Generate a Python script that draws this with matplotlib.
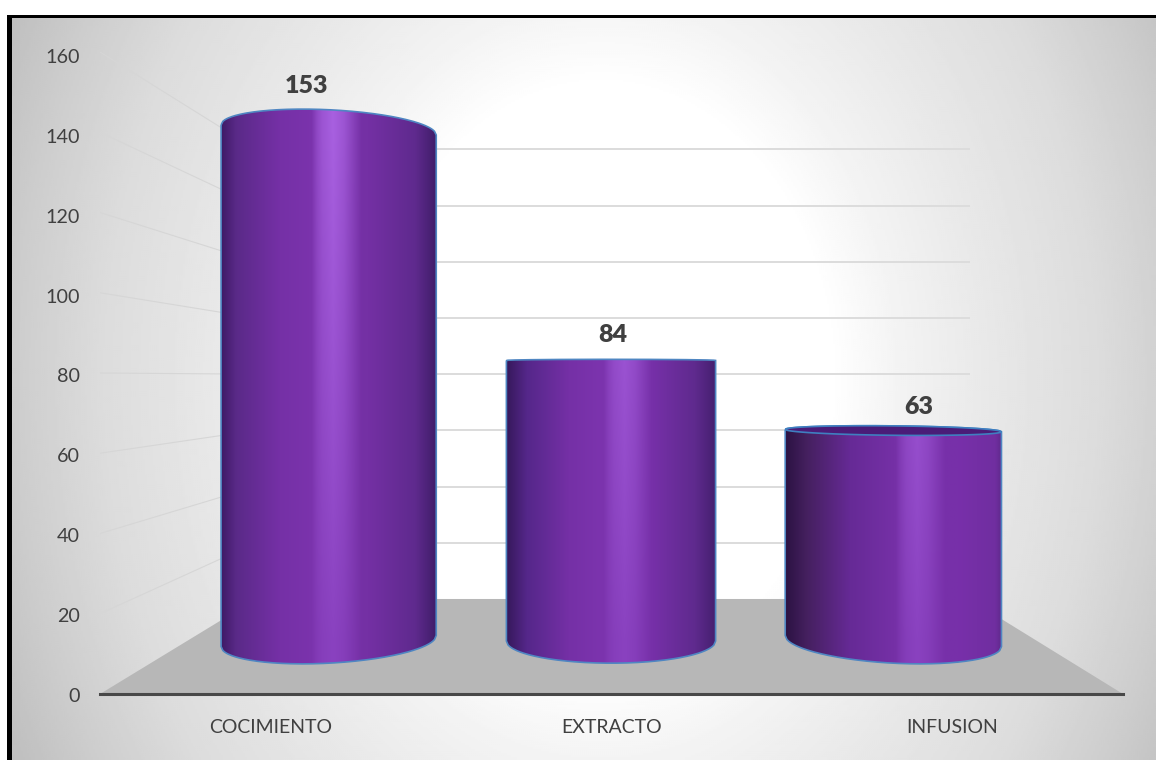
import numpy as np
import matplotlib
matplotlib.use("Agg")
import matplotlib.pyplot as plt
from matplotlib.patches import PathPatch, Polygon, Rectangle
from matplotlib.path import Path

categories = ["COCIMIENTO", "EXTRACTO", "INFUSION"]
values = [153, 84, 63]
y_ticks = [0, 20, 40, 60, 80, 100, 120, 140, 160]

plt.rcParams["font.family"] = ["Lato", "DejaVu Sans"]
W, H = 1156, 760
fig = plt.figure(figsize=(W / 100, H / 100), dpi=100, facecolor="white")


def axes_px(x0, x1, ytop, ybot, **kw):
    return fig.add_axes([x0 / W, 1 - ybot / H, (x1 - x0) / W, (ybot - ytop) / H], **kw)


# ---------- background ----------
bg = axes_px(0, W, 0, H)
bg.set_xlim(0, W)
bg.set_ylim(H, 0)
bg.axis("off")
xx, yy = np.meshgrid(np.arange(12, W, 2.0), np.arange(17, H, 2.0))
d = np.hypot(xx - 600, (yy - 380) * 0.78)
g = np.interp(d, [0, 230, 300, 390, 500, 585, 650, 760],
              np.array([255, 255, 243, 232, 220, 205, 192, 180]) / 255)
bg.imshow(g, extent=(12, W, H, 17), cmap="gray", vmin=0, vmax=1, aspect="auto", interpolation="bilinear")
bg.set_xlim(0, W)
bg.set_ylim(H, 0)
bg.add_patch(Rectangle((7, 15), 5, H - 15, fc="black", ec="none"))
bg.add_patch(Rectangle((7, 15), W - 7, 2.5, fc="black", ec="none"))

# ---------- walls and floor ----------
wall = axes_px(100, 1123, 52, 694)
wall.patch.set_visible(False)
wall.set_xlim(-0.5, 2.5)
wall.set_ylim(0, 160)
for s in ["top", "left", "right"]:
    wall.spines[s].set_visible(False)
wall.spines["bottom"].set_color("#484848")
wall.spines["bottom"].set_linewidth(2.2)
wall.set_yticks([])
wall.set_xticks(range(len(categories)), categories, fontsize=14, color="#404040")
wall.tick_params(axis="x", length=0, pad=18)

DEPTH_X0, DEPTH_X1 = -0.0425, 2.0484


def back(v):
    return 23.68 + 0.7003 * v


wall.add_patch(Polygon([(-0.5, 0), (2.5, 0), (DEPTH_X1, back(0)), (DEPTH_X0, back(0))],
                       fc="#b7b7b7", ec="none", zorder=1))
for v in y_ticks:
    if v > 0:
        wall.plot([-0.5, DEPTH_X0], [v, back(v)], color="#d6d6d6", lw=0.8, zorder=1)
        wall.plot([DEPTH_X0, DEPTH_X1], [back(v), back(v)], color="#dcdcdc", lw=1.4, zorder=1)

labels = axes_px(100, 1123, 56, 695)
labels.patch.set_visible(False)
labels.set_ylim(0, 160)
labels.set_xticks([])
for s in labels.spines.values():
    s.set_visible(False)
labels.set_yticks(y_ticks, [str(v) for v in y_ticks], fontsize=14.2, color="#404040")
labels.tick_params(axis="y", length=0, pad=14.4)

# ---------- cylinders ----------
PX = 3.34
bars = axes_px(187.5, 1034.5, 641 - 180 * PX, 641 + 20 * PX)
bars.patch.set_visible(False)
bars.axis("off")
bars.set_xlim(-0.5, 2.5)
bars.set_ylim(-20, 180)

widths = [0.762, 0.741, 0.766]
peak = [0.52, 0.565, 0.61]
base_pos = [
    [0, 0.07, 0.27, 0.45, 0.68, 0.90, 1.0],
    [0, 0.10, 0.30, 0.45, 0.70, 0.90, 1.0],
    [0, 0.10, 0.30, 0.50, 0.80, 0.97, 1.0],
]
base_col = [
    ["#3e1a66", "#5a2a88", "#7530a6", "#7c34ae", "#7430a4", "#5f2a8e", "#3f1d68"],
    ["#35185a", "#55278a", "#7530a6", "#7c34ae", "#7630a8", "#5f2a8e", "#45206f"],
    ["#2b1242", "#45205f", "#662a96", "#7530a6", "#7830aa", "#702ea0", "#5f2a8c"],
]
ts = np.linspace(-1, 1, 121)


def half_h(v):
    return 0.083 * (v - 80)


def edge(c, w, v, o, sign):
    h = half_h(v)
    xs = c + ts * w / 2
    ys = v + o * h * 0.25 * ts + sign * abs(h) * np.sqrt(np.clip(1 - ts ** 2, 0, 1))
    return xs, ys


rgb = matplotlib.colors.to_rgb
hi_low, hi_top = np.array(rgb("#8a42c0")), np.array(rgb("#a860e0"))

for i, (v, w) in enumerate(zip(values, widths)):
    o = i - 1
    xt, yt = edge(i, w, v, o, +1)
    xb, yb = edge(i, w, 0, o, -1)
    verts = list(zip(xt, yt)) + list(zip(xb[::-1], yb[::-1])) + [(xt[0], yt[0])]
    clip = Path(verts)

    u = np.linspace(0, 1, 400)
    p = peak[i]
    stops = [rgb(c) for c in base_col[i]]
    base = np.stack([np.interp(u, base_pos[i], [c[k] for c in stops]) for k in range(3)], axis=1)
    hl = np.interp(u, [p - 0.10, p - 0.075, p - 0.05, p, p + 0.05, p + 0.13], [0, 0.45, 0.75, 1, 0.75, 0])[:, None]
    rows = np.linspace(yb.min(), yt.max(), 160)
    img = np.zeros((160, 400, 3))
    for r, level in enumerate(rows):
        f = np.clip(level / 153, 0, 1)
        img[r] = base + hl * (hi_low + (hi_top - hi_low) * f - base)
    ext = (i - w / 2, i + w / 2, yb.min(), yt.max())
    im = bars.imshow(img, extent=ext, origin="lower", aspect="auto", interpolation="bilinear", zorder=3)
    im.set_clip_path(PathPatch(clip, transform=bars.transData))

    bars.add_patch(PathPatch(clip, fc="none", ec="#4f86c2", lw=1.2, zorder=4))
    if half_h(v) < 0:
        xl, yl = edge(i, w, v, o, -1)
        cap = Path(list(zip(xt, yt)) + list(zip(xl[::-1], yl[::-1])) + [(xt[0], yt[0])])
        bars.add_patch(PathPatch(cap, fc="#4a1c78", ec="#3f7fc0", lw=1.2, zorder=5))
    off_y = (27 + max(half_h(v), -0.25) * PX) * 0.72 - 2
    bars.annotate(str(v), (i, v), xytext=(24 * o * 0.72 + 1, off_y), textcoords="offset points",
                  ha="center", va="center", fontsize=18, fontweight="heavy", color="#404040", zorder=6)

bars.set_xlim(-0.5, 2.5)
bars.set_ylim(-20, 180)

fig.savefig("out.png", dpi=100)
